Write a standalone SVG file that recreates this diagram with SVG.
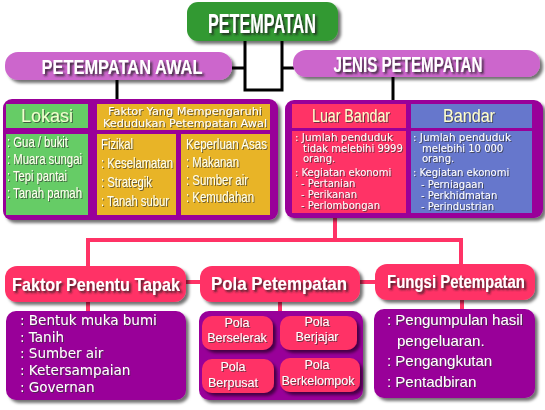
<svg xmlns="http://www.w3.org/2000/svg" width="545" height="410" viewBox="0 0 545 410">
<defs>
<filter id="sh" x="-10%" y="-10%" width="130%" height="140%"><feDropShadow dx="3" dy="3" stdDeviation="1.5" flood-color="#000" flood-opacity="0.55"/></filter>
<filter id="ts" x="-10%" y="-20%" width="130%" height="150%"><feDropShadow dx="2" dy="2" stdDeviation="1" flood-color="#222" flood-opacity="0.85"/></filter>
<filter id="ts1" x="-10%" y="-20%" width="130%" height="150%"><feDropShadow dx="1" dy="1" stdDeviation="0.6" flood-color="#333" flood-opacity="0.7"/></filter>
</defs>
<style>
.title{font-family:"Liberation Sans",Arial,sans-serif;font-weight:bold;fill:#fff;text-anchor:middle}
.narrow{font-family:"Liberation Sans",Arial,sans-serif;font-size:14.5px;fill:#ffffee}
.small{font-family:"DejaVu Sans",Verdana,sans-serif;font-size:10px;fill:#fff}
.body{font-family:"DejaVu Sans",Verdana,sans-serif;font-size:13.5px;fill:#fff}
.sub{font-family:"Liberation Sans",Arial,sans-serif;font-size:12.5px;fill:#fff;text-anchor:middle}
.blk{stroke:#000;stroke-width:3;fill:none}
.pk{stroke:#ff3366;stroke-width:4;fill:none}
</style>
<g id="connectors">
<path class="blk" d="M245 40V90H282V40M232 68H245M282 68H294M117 80V100M393 77V100"/>
<path class="pk" d="M335 213V240M88 266V240H461V265M186 282H200M360 282H375M88 302V312M280 302V312M462 300V310"/>
</g>
<g id="petempatan">
<rect x="187" y="2" width="151" height="39" rx="11" fill="#339933" filter="url(#sh)"/>
<text class="title" x="262" y="33" font-size="28" textLength="108" lengthAdjust="spacingAndGlyphs" filter="url(#ts)">PETEMPATAN</text>
</g>
<g id="petempatan-awal">
<rect x="5" y="52" width="227" height="28" rx="13" fill="#cc66cc" filter="url(#sh)"/>
<text class="title" x="122" y="74" font-size="21" textLength="161" lengthAdjust="spacingAndGlyphs" filter="url(#ts)">PETEMPATAN AWAL</text>
</g>
<g id="jenis-petempatan">
<rect x="293" y="50" width="247" height="27" rx="13" fill="#cc66cc" filter="url(#sh)"/>
<text class="title" x="408" y="72" font-size="22" textLength="149" lengthAdjust="spacingAndGlyphs" filter="url(#ts)">JENIS PETEMPATAN</text>
</g>
<g id="awal-detail">
<rect x="3" y="99" width="275" height="121" rx="9" fill="#990099" filter="url(#sh)"/>
<rect x="6" y="104" width="82" height="24" fill="#66cc66"/>
<text x="47" y="122" font-family="Liberation Sans,Arial,sans-serif" font-size="18" fill="#eeffcc" text-anchor="middle" filter="url(#ts1)">Lokasi</text>
<rect x="97" y="104" width="173" height="26" fill="#e8b427"/>
<g class="small" fill="#ffffee" text-anchor="middle" filter="url(#ts1)">
<text x="185" y="115" textLength="154" lengthAdjust="spacingAndGlyphs">Faktor Yang Mempengaruhi</text>
<text x="185" y="127" textLength="164" lengthAdjust="spacingAndGlyphs">Kedudukan Petempatan Awal</text>
</g>
<rect x="6" y="134" width="82" height="81" fill="#66cc66"/>
<rect x="97" y="134" width="79" height="81" fill="#e8b427"/>
<rect x="181" y="134" width="89" height="81" fill="#e8b427"/>
<g class="narrow" filter="url(#ts1)">
<text x="7" y="147" textLength="61" lengthAdjust="spacingAndGlyphs">: Gua / bukit</text>
<text x="7" y="164" textLength="75" lengthAdjust="spacingAndGlyphs">: Muara sungai</text>
<text x="7" y="181" textLength="60" lengthAdjust="spacingAndGlyphs">: Tepi pantai</text>
<text x="7" y="198" textLength="75" lengthAdjust="spacingAndGlyphs">: Tanah pamah</text>
<text x="101" y="149" textLength="32" lengthAdjust="spacingAndGlyphs">Fizikal</text>
<text x="101" y="168" textLength="72" lengthAdjust="spacingAndGlyphs">: Keselamatan</text>
<text x="101" y="187" textLength="51" lengthAdjust="spacingAndGlyphs">: Strategik</text>
<text x="101" y="206" textLength="68" lengthAdjust="spacingAndGlyphs">: Tanah subur</text>
<text x="186" y="149" textLength="81" lengthAdjust="spacingAndGlyphs">Keperluan Asas</text>
<text x="186" y="167" textLength="53" lengthAdjust="spacingAndGlyphs">: Makanan</text>
<text x="186" y="185" textLength="62" lengthAdjust="spacingAndGlyphs">: Sumber air</text>
<text x="186" y="202" textLength="68" lengthAdjust="spacingAndGlyphs">: Kemudahan</text>
</g>
</g>
<g id="jenis-detail">
<rect x="285" y="100" width="258" height="118" rx="9" fill="#990099" filter="url(#sh)"/>
<rect x="292" y="104" width="114" height="24" fill="#ff3366"/>
<rect x="411" y="104" width="121" height="24" fill="#6677cc"/>
<text x="351" y="122" font-family="Liberation Sans,Arial,sans-serif" font-size="17.5" fill="#ffffcc" text-anchor="middle" textLength="78" lengthAdjust="spacingAndGlyphs" filter="url(#ts1)">Luar Bandar</text>
<text x="469" y="122" font-family="Liberation Sans,Arial,sans-serif" font-size="17.5" fill="#ffffcc" text-anchor="middle" textLength="52" lengthAdjust="spacingAndGlyphs" filter="url(#ts1)">Bandar</text>
<rect x="292" y="131" width="114" height="82" fill="#ff3366"/>
<rect x="411" y="131" width="121" height="82" fill="#6677cc"/>
<g class="small" filter="url(#ts1)">
<text x="295" y="141" textLength="98" lengthAdjust="spacingAndGlyphs">: Jumlah penduduk</text>
<text x="303" y="151.5">tidak melebihi 9999</text>
<text x="303" y="162">orang.</text>
<text x="295" y="176">: Kegiatan ekonomi</text>
<text x="301" y="187">- Pertanian</text>
<text x="301" y="198">- Perikanan</text>
<text x="301" y="209">- Perlombongan</text>
<text x="413" y="141" textLength="98" lengthAdjust="spacingAndGlyphs">: Jumlah penduduk</text>
<text x="422" y="151.5">melebihi 10 000</text>
<text x="422" y="162">orang.</text>
<text x="413" y="176">: Kegiatan ekonomi</text>
<text x="421" y="188">- Perniagaan</text>
<text x="421" y="199">- Perkhidmatan</text>
<text x="421" y="210">- Perindustrian</text>
</g>
</g>
<g id="faktor-penentu">
<rect x="5" y="266" width="181" height="36" rx="12" fill="#ff3366" filter="url(#sh)"/>
<text class="title" x="96" y="291" font-size="19" textLength="168" lengthAdjust="spacingAndGlyphs" filter="url(#ts)">Faktor Penentu Tapak</text>
</g>
<g id="faktor-detail">
<rect x="6" y="311" width="180" height="89" rx="10" fill="#990099" filter="url(#sh)"/>
<g class="body" filter="url(#ts1)">
<text x="20" y="325">: Bentuk muka bumi</text>
<text x="20" y="342">: Tanih</text>
<text x="20" y="358">: Sumber air</text>
<text x="20" y="375">: Ketersampaian</text>
<text x="20" y="392">: Governan</text>
</g>
</g>
<g id="pola-petempatan">
<rect x="200" y="266" width="160" height="36" rx="12" fill="#ff3366" filter="url(#sh)"/>
<text class="title" x="279" y="290" font-size="19" textLength="136" lengthAdjust="spacingAndGlyphs" filter="url(#ts)">Pola Petempatan</text>
</g>
<g id="pola-detail">
<rect x="199" y="311" width="164" height="89" rx="10" fill="#990099" filter="url(#sh)"/>
<rect x="202" y="316" width="71" height="34" rx="10" fill="#ff3366" filter="url(#sh)"/>
<rect x="280" y="316" width="77" height="34" rx="10" fill="#ff3366" filter="url(#sh)"/>
<rect x="202" y="359" width="72" height="34" rx="10" fill="#ff3366" filter="url(#sh)"/>
<rect x="280" y="358" width="80" height="34" rx="10" fill="#ff3366" filter="url(#sh)"/>
<g class="sub" filter="url(#ts1)">
<text x="237" y="327">Pola</text>
<text x="237" y="342">Berselerak</text>
<text x="317" y="326">Pola</text>
<text x="317" y="341">Berjajar</text>
<text x="233" y="371">Pola</text>
<text x="233" y="387">Berpusat</text>
<text x="317" y="369">Pola</text>
<text x="318" y="385">Berkelompok</text>
</g>
</g>
<g id="fungsi-petempatan">
<rect x="375" y="264" width="160" height="36" rx="12" fill="#ff3366" filter="url(#sh)"/>
<text class="title" x="456" y="288" font-size="19" textLength="138" lengthAdjust="spacingAndGlyphs" filter="url(#ts)">Fungsi Petempatan</text>
</g>
<g id="fungsi-detail">
<rect x="374" y="309" width="161" height="89" rx="10" fill="#990099" filter="url(#sh)"/>
<g font-family="Liberation Sans,Arial,sans-serif" font-size="15" fill="#fff" filter="url(#ts1)">
<text x="387" y="325">: Pengumpulan hasil</text>
<text x="397" y="346">pengeluaran.</text>
<text x="387" y="366">: Pengangkutan</text>
<text x="387" y="387">: Pentadbiran</text>
</g>
</g>
</svg>
